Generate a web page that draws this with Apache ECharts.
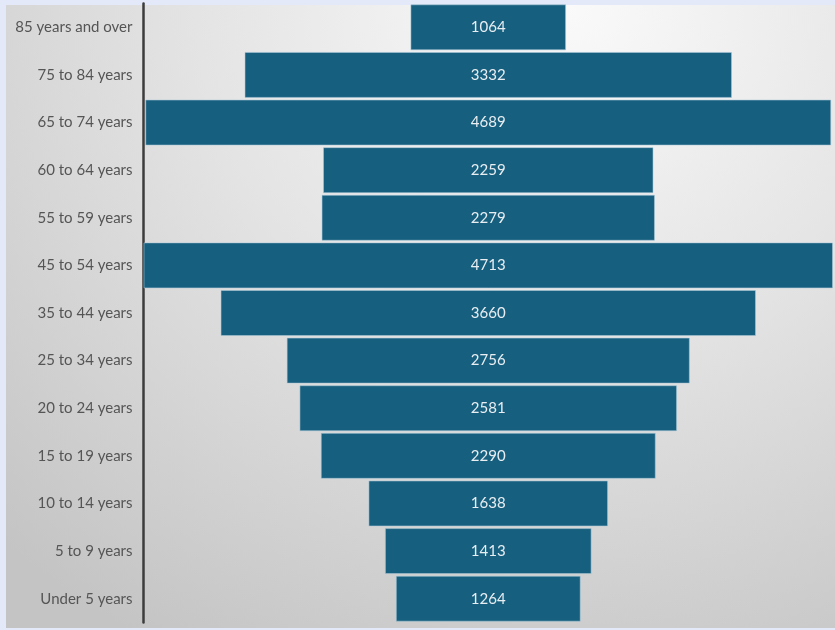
<!DOCTYPE html>
<html>
<head>
<meta charset="utf-8">
<script src="https://cdn.jsdelivr.net/npm/echarts@6/dist/echarts.min.js"></script>
<style>
html,body{margin:0;padding:0;width:835px;height:630px;overflow:hidden;background:#e3e9f8;}
#panel{position:absolute;left:6px;top:5px;width:829px;height:623px;
background:radial-gradient(ellipse 820px 740px at 560px 0px,#fafafa 0%,#e4e4e4 45%,#c4c4c4 100%);}
#chart{position:absolute;left:0;top:0;width:835px;height:630px;}
</style>
</head>
<body>
<div id="panel"></div>
<div id="chart"></div>
<script>
const categories = ["85 years and over","75 to 84 years","65 to 74 years","60 to 64 years","55 to 59 years","45 to 54 years","35 to 44 years","25 to 34 years","20 to 24 years","15 to 19 years","10 to 14 years","5 to 9 years","Under 5 years"];
const values = [1064,3332,4689,2259,2279,4713,3660,2756,2581,2290,1638,1413,1264];

const maxVal = Math.max.apply(null, values);
const offsets = values.map(v => (maxVal - v) / 2);

const chart = echarts.init(document.getElementById('chart'), null, {renderer:'canvas'});
chart.setOption({
  backgroundColor: 'transparent',
  animation: false,
  grid: {left: 143.5, right: 2, top: 3.5, bottom: 7.5, containLabel: false},
  xAxis: {
    type: 'value', min: 0, max: maxVal, show: false
  },
  yAxis: {
    type: 'category', data: categories, inverse: true,
    axisLine: {show: true, lineStyle: {color: '#3c3c3c', width: 2.5}},
    axisTick: {show: false},
    splitLine: {show: false},
    axisLabel: {color: '#555555', fontFamily: 'Lato', fontSize: 15, margin: 11}
  },
  series: [
    {
      type: 'bar', stack: 'f', data: offsets, silent: true,
      itemStyle: {color: 'transparent'}, barWidth: 46
    },
    {
      type: 'bar', stack: 'f', data: values, barWidth: 46,
      itemStyle: {color: '#175f7f', borderColor: 'rgba(170,200,215,0.55)', borderWidth: 1},
      label: {show: true, position: 'inside', color: '#e8eef2', fontFamily: 'Lato', fontSize: 15}
    }
  ]
});
</script>
</body>
</html>
